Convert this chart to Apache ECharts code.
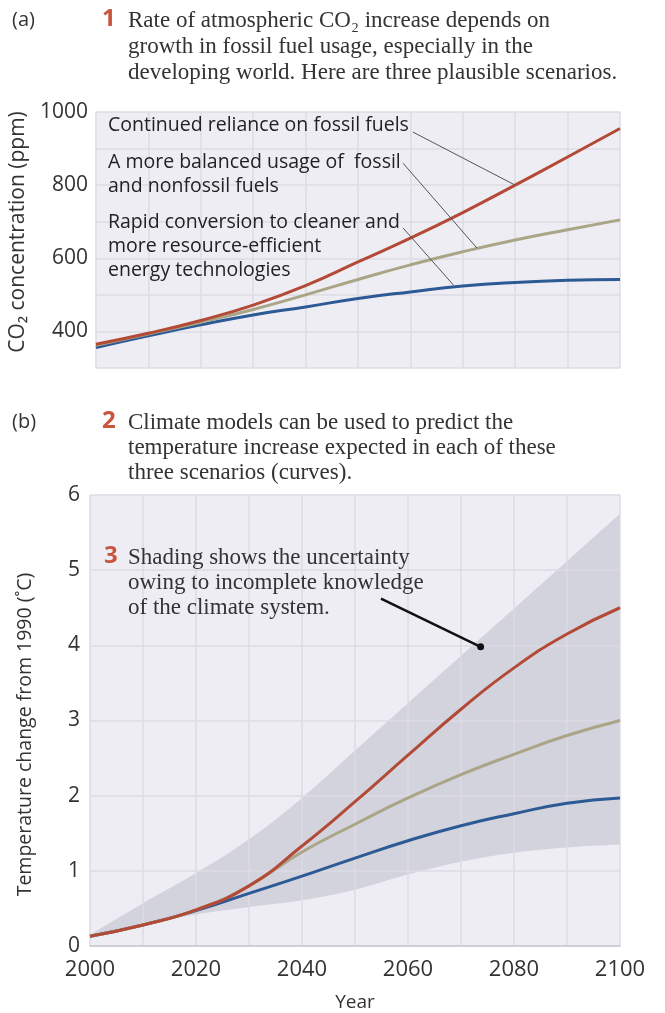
<!DOCTYPE html>
<html>
<head>
<meta charset="utf-8">
<style>
html,body{margin:0;padding:0;background:#fff;}
#chart{width:665px;height:1013px;}
</style>
<script src="https://cdn.jsdelivr.net/npm/echarts@6/dist/echarts.min.js"></script>
</head>
<body>
<div id="chart"></div>
<script>
// ---- data ----
const years = [2000, 2010, 2020, 2030, 2040, 2050, 2060, 2070, 2080, 2090, 2100];

// (a) CO2 concentration (ppm)
const co2Fossil   = [365, 395, 430, 472, 525, 590, 655, 725, 800, 877, 955];
const co2Balanced = [362, 393, 425, 460, 500, 542, 582, 618, 650, 678, 705];
const co2Rapid    = [356, 388, 418, 445, 467, 490, 508, 524, 534, 540, 542];

// (b) temperature change from 1990 (°C)
const tempFossil   = [0.13, 0.28, 0.48, 0.80, 1.33, 1.92, 2.54, 3.15, 3.70, 4.15, 4.50];
const tempBalanced = [0.13, 0.28, 0.48, 0.80, 1.25, 1.62, 1.97, 2.28, 2.55, 2.80, 3.00];
const tempRapid    = [0.13, 0.28, 0.47, 0.70, 0.93, 1.17, 1.40, 1.60, 1.76, 1.90, 1.97];
const bandLower    = [0.13, 0.28, 0.42, 0.52, 0.61, 0.75, 0.95, 1.12, 1.24, 1.31, 1.35];
const bandUpper    = [0.15, 0.57, 0.97, 1.42, 1.97, 2.60, 3.23, 3.86, 4.49, 5.12, 5.75];

// annotation leader lines (data coordinates)
const leaderFossil   = [[2060.5, 945], [2080, 800]];
const leaderBalanced = [[2058.6, 860], [2072.7, 628]];
const leaderRapid    = [[2058.6, 683], [2068.2, 527]];
const leaderBand     = [[2054.9, 4.62], [2073.7, 3.98]];

const co2Ticks  = [400, 600, 800, 1000];
const yearTicks = [2000, 2020, 2040, 2060, 2080, 2100];

// ---- styling ----
const RED = '#b34a36', OLIVE = '#aaa586', BLUE = '#2c5a95';
const BG = '#efedf4', GRIDC = '#dcdbe4', BAND = '#d3d3de';
const SANS = '"Open Sans", "Noto Sans", sans-serif';
const SERIF = '"Liberation Serif", "DejaVu Serif", serif';

const pair = (xs, ys) => xs.map((x, i) => [x, ys[i]]);

function lineSeries(name, xi, yi, data, color) {
  return {
    name, type: 'line', xAxisIndex: xi, yAxisIndex: yi, data: pair(years, data),
    smooth: true, symbol: 'none', z: 5,
    lineStyle: { color, width: 3 }
  };
}
function leader(xi, yi, pts, color, width) {
  return {
    type: 'line', xAxisIndex: xi, yAxisIndex: yi, data: pts, z: 6,
    symbol: 'none', showSymbol: false,
    lineStyle: { color, width },
    silent: true
  };
}
function areaSeries(data, color) {
  return {
    type: 'line', xAxisIndex: 1, yAxisIndex: 1, smooth: 0.4, symbol: 'none', z: 2, silent: true,
    data: pair(years, data), lineStyle: { width: 0, opacity: 0 },
    areaStyle: { color, opacity: 1, origin: 'start' }
  };
}

const chart = echarts.init(document.getElementById('chart'), null, { renderer: 'canvas' });

const xAxisCommon = {
  type: 'value', min: 2000, max: 2100, interval: 10, z: 3,
  splitLine: { show: true, lineStyle: { color: GRIDC, width: 1.5 } },
  axisTick: { show: false }
};

const texts = [];
function t(x, y, text, font, fill) {
  texts.push({ type: 'text', x, y, style: { text, font, fill, textVerticalAlign: 'middle' }, z: 10 });
}
const TF = '23px ' + SERIF, TC = '#333', NUM = 'bold 24px ' + SANS, NUMC = '#c8553d';
t(12, 20, '(a)', '20px ' + SANS, '#333');
t(102, 19, '1', NUM, NUMC);
t(128, 21, 'Rate of atmospheric CO\u2082 increase depends on', TF, TC);
t(128, 47, 'growth in fossil fuel usage, especially in the', TF, TC);
t(128, 73, 'developing world. Here are three plausible scenarios.', TF, TC);

t(12, 422, '(b)', '20px ' + SANS, '#333');
t(102, 421, '2', NUM, NUMC);
t(128, 423, 'Climate models can be used to predict the', TF, TC);
t(128, 448, 'temperature increase expected in each of these', TF, TC);
t(128, 473, 'three scenarios (curves).', TF, TC);

t(104, 556, '3', NUM, NUMC);
t(128, 558, 'Shading shows the uncertainty', TF, TC);
t(128, 583, 'owing to incomplete knowledge', TF, TC);
t(128, 608, 'of the climate system.', TF, TC);

const AF = '500 19.5px ' + SANS;
t(108, 125, 'Continued reliance on fossil fuels', AF, '#222');
t(108, 162, 'A more balanced usage of  fossil', AF, '#222');
t(108, 186, 'and nonfossil fuels', AF, '#222');
t(108, 222, 'Rapid conversion to cleaner and', AF, '#222');
t(108, 246, 'more resource-efficient', AF, '#222');
t(108, 270, 'energy technologies', AF, '#222');

const option = {
  animation: false,
  backgroundColor: '#fff',
  grid: [
    { left: 90, right: 45, top: 112, height: 256, show: true, backgroundColor: BG, borderWidth: 0 },
    { left: 90, right: 45, top: 495, height: 455, show: true, backgroundColor: BG, borderWidth: 0 }
  ],
  xAxis: [
    Object.assign({}, xAxisCommon, {
      gridIndex: 0,
      axisLine: { show: false },
      axisLabel: { show: false }
    }),
    Object.assign({}, xAxisCommon, {
      gridIndex: 1,
      axisLine: { show: true, lineStyle: { color: '#c9c8d2', width: 1.5 } },
      axisLabel: {
        show: true, margin: 13, color: '#333', fontFamily: SANS, fontSize: 22,
        formatter: v => (yearTicks.indexOf(v) >= 0 ? String(v) : '')
      },
      name: 'Year', nameLocation: 'middle', nameGap: 47,
      nameTextStyle: { color: '#333', fontFamily: SANS, fontSize: 19 }
    })
  ],
  yAxis: [
    {
      type: 'value', gridIndex: 0, min: 300, max: 1000, interval: 100, z: 3,
      splitLine: { show: true, lineStyle: { color: GRIDC, width: 1.5 } },
      axisLine: { show: false }, axisTick: { show: false },
      axisLabel: {
        margin: 8, color: '#333', fontFamily: SANS, fontSize: 21,
        formatter: v => (co2Ticks.indexOf(v) >= 0 ? String(v) : '')
      },
      name: 'CO\u2082 concentration (ppm)', nameLocation: 'middle', nameGap: 54, nameRotate: 90,
      nameTextStyle: { color: '#333', fontFamily: SANS, fontSize: 21, padding: [0, 0, 0, 16] }
    },
    {
      type: 'value', gridIndex: 1, min: 0, max: 6, interval: 1, z: 3,
      splitLine: { show: true, lineStyle: { color: GRIDC, width: 1.5 } },
      axisLine: { show: false }, axisTick: { show: false },
      axisLabel: { margin: 10, color: '#333', fontFamily: SANS, fontSize: 21 },
      name: 'Temperature change from 1990 (\u02DAC)', nameLocation: 'middle', nameGap: 55, nameRotate: 90,
      nameTextStyle: { color: '#333', fontFamily: SANS, fontSize: 19.5, padding: [0, 28, 0, 0] }
    }
  ],
  series: [
    // uncertainty band: upper envelope filled grey, lower envelope refilled with plot background
    areaSeries(bandUpper, BAND),
    areaSeries(bandLower, BG),
    lineSeries('Rapid (a)', 0, 0, co2Rapid, BLUE),
    lineSeries('Balanced (a)', 0, 0, co2Balanced, OLIVE),
    lineSeries('Fossil (a)', 0, 0, co2Fossil, RED),
    lineSeries('Rapid (b)', 1, 1, tempRapid, BLUE),
    lineSeries('Balanced (b)', 1, 1, tempBalanced, OLIVE),
    lineSeries('Fossil (b)', 1, 1, tempFossil, RED),
    leader(0, 0, leaderFossil, '#555', 1),
    leader(0, 0, leaderBalanced, '#555', 1),
    leader(0, 0, leaderRapid, '#555', 1),
    {
      type: 'line', xAxisIndex: 1, yAxisIndex: 1, z: 6, silent: true,
      data: leaderBand.map((p, i) => ({ value: p, symbol: i === leaderBand.length - 1 ? 'circle' : 'none', symbolSize: 7 })),
      showSymbol: true, showAllSymbol: true,
      itemStyle: { color: '#111' },
      lineStyle: { color: '#111', width: 2.5 }
    }
  ],
  graphic: texts
};
chart.setOption(option);
</script>
</body>
</html>
